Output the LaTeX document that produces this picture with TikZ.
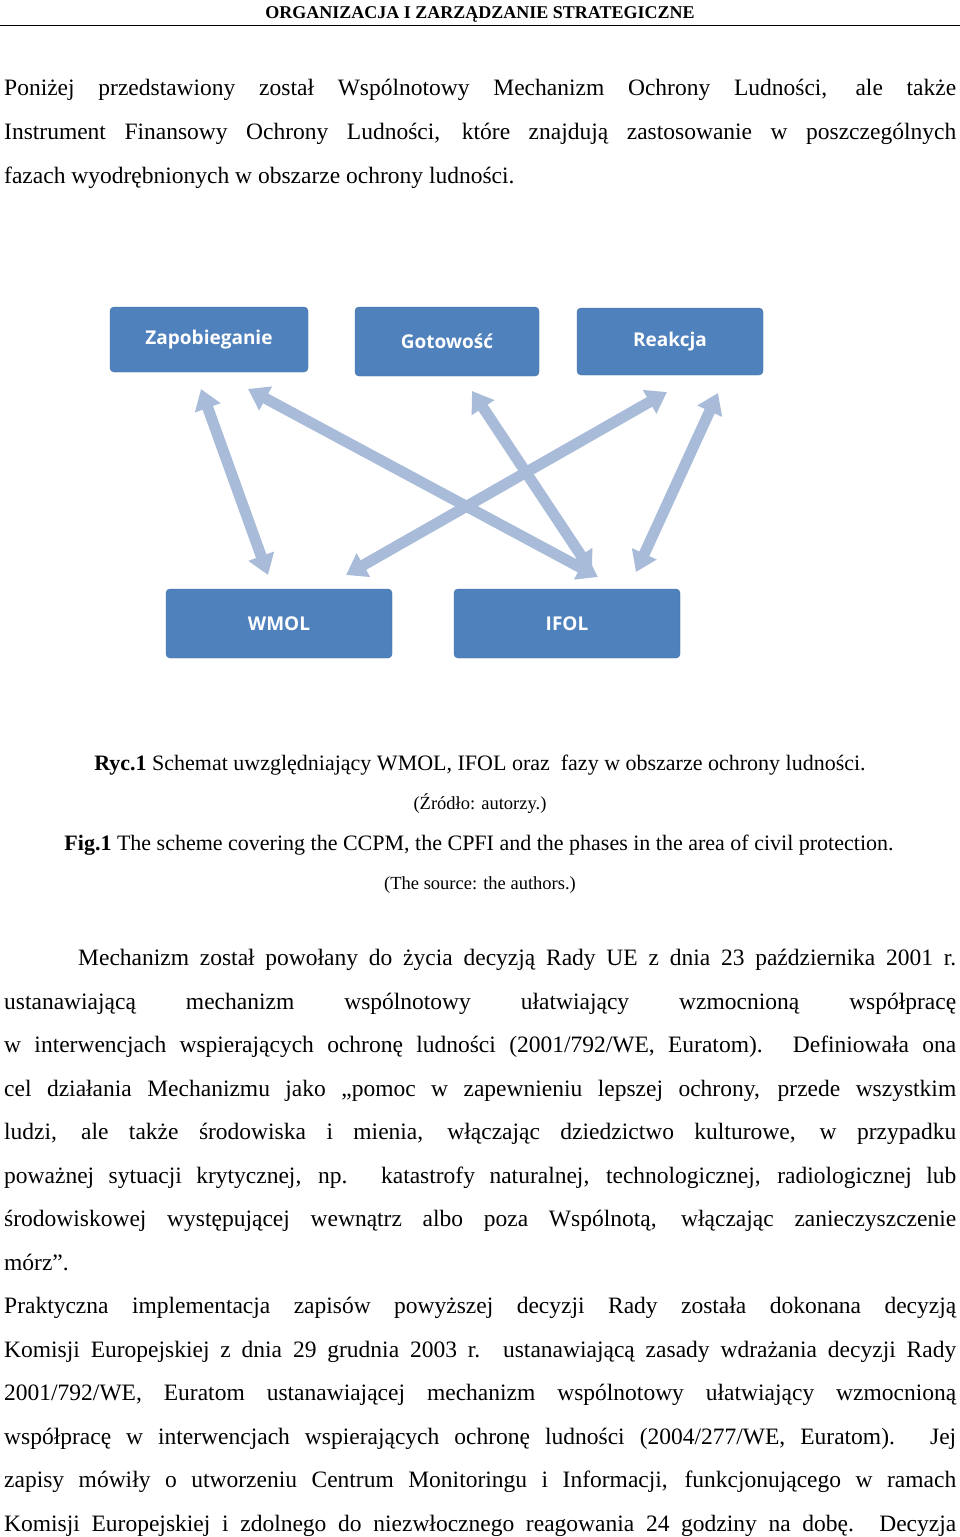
\documentclass[tikz,border=0pt]{standalone}
\usepackage{fontspec}
\setmainfont{Liberation Serif}
\setsansfont{Open Sans}
\usetikzlibrary{arrows.meta}
\definecolor{boxblue}{HTML}{4F81BD}
\definecolor{arrblue}{HTML}{A8BCDA}
\newcommand{\jl}[1]{\makebox[952pt][s]{#1}}
\tikzset{
  phase/.style={draw=boxblue!85!black, fill=boxblue, rounded corners=4pt, text=white, font=\sffamily\bfseries\fontsize{19}{22}\selectfont, inner sep=0pt},
  link/.style={arrblue, line width=11pt, {Triangle[width=26pt,length=20pt]}-{Triangle[width=26pt,length=20pt]}, shorten <=0pt, shorten >=0pt},
  bodyl/.style={anchor=base west, inner sep=0pt, font=\fontsize{23.5}{28}\selectfont},
  capl/.style={anchor=base, inner sep=0pt, font=\fontsize{22}{26}\selectfont},
  srcl/.style={anchor=base, inner sep=0pt, font=\fontsize{18.5}{22}\selectfont}
}
\begin{document}
\begin{tikzpicture}[x=1pt,y=-1pt]
\useasboundingbox (0,0) rectangle (960,1537);
\fill[white] (0,0) rectangle (960,1537);
\node[anchor=base, inner sep=0pt, font=\bfseries\fontsize{18}{20}\selectfont] (hdr) at (480,18) {ORGANIZACJA I ZARZĄDZANIE STRATEGICZNE};
\draw[line width=0.8pt] (0,25) -- (960,25);
\node[bodyl] (p1) at (4,95) {\jl{Poniżej przedstawiony został Wspólnotowy Mechanizm Ochrony Ludności, ale także}};
\node[bodyl] (p2) at (4,139) {\jl{Instrument Finansowy Ochrony Ludności, które znajdują zastosowanie w poszczególnych}};
\node[bodyl] (p3) at (4,183) {fazach wyodrębnionych w obszarze ochrony ludności.};

\node[phase, minimum width=198pt, minimum height=65pt] (zap) at (209,339.5) {Zapobieganie};
\node[phase, minimum width=184pt, minimum height=69pt] (got) at (447,341.5) {Gotowość};
\node[phase, minimum width=186pt, minimum height=67pt] (rea) at (670,341.5) {Reakcja};
\node[phase, minimum width=226pt, minimum height=69pt] (wmol) at (279,623.5) {WMOL};
\node[phase, minimum width=226pt, minimum height=69pt] (ifol) at (567,623.5) {IFOL};

\coordinate (a1s) at (201,389); \coordinate (a1e) at (268,575);
\coordinate (a2s) at (248,389); \coordinate (a2e) at (598,577);
\coordinate (a3s) at (472,391); \coordinate (a3e) at (592,572);
\coordinate (a4s) at (667,392); \coordinate (a4e) at (346,575);
\coordinate (a5s) at (718,393); \coordinate (a5e) at (636,572);
\draw[link] (a1s) -- (a1e);
\draw[link] (a2s) -- (a2e);
\draw[link] (a3s) -- (a3e);
\draw[link] (a4s) -- (a4e);
\draw[link] (a5s) -- (a5e);

\node[capl] (c1) at (480,770) {\textbf{Ryc.1} Schemat uwzględniający WMOL, IFOL oraz\ \ fazy w obszarze ochrony ludności.};
\node[srcl] (c2) at (480,809) {(Źródło: autorzy.)};
\node[capl] (c3) at (479,850) {\textbf{Fig.1} The scheme covering the CCPM, the CPFI and the phases in the area of civil protection.};
\node[srcl] (c4) at (480,889) {(The source: the authors.)};

\node[bodyl] (b1) at (4,965) {\makebox[952pt][s]{\hspace{74pt}Mechanizm został powołany do życia decyzją Rady UE z dnia 23 października 2001 r.}};
\node[bodyl] (b2) at (4,1009) {\jl{ustanawiającą mechanizm wspólnotowy ułatwiający wzmocnioną współpracę}};
\node[bodyl] (b3) at (4,1052) {\jl{w interwencjach wspierających ochronę ludności (2001/792/WE, Euratom). Definiowała ona}};
\node[bodyl] (b4) at (4,1096) {\jl{cel działania Mechanizmu jako „pomoc w zapewnieniu lepszej ochrony, przede wszystkim}};
\node[bodyl] (b5) at (4,1139) {\jl{ludzi, ale także środowiska i mienia, włączając dziedzictwo kulturowe, w przypadku}};
\node[bodyl] (b6) at (4,1183) {\jl{poważnej sytuacji krytycznej, np. katastrofy naturalnej, technologicznej, radiologicznej lub}};
\node[bodyl] (b7) at (4,1226) {\jl{środowiskowej występującej wewnątrz albo poza Wspólnotą, włączając zanieczyszczenie}};
\node[bodyl] (b8) at (4,1270) {mórz”.};
\node[bodyl] (b9) at (4,1313) {\jl{Praktyczna implementacja zapisów powyższej decyzji Rady została dokonana decyzją}};
\node[bodyl] (b10) at (4,1357) {\jl{Komisji Europejskiej z dnia 29 grudnia 2003 r. ustanawiającą zasady wdrażania decyzji Rady}};
\node[bodyl] (b11) at (4,1400) {\jl{2001/792/WE, Euratom ustanawiającej mechanizm wspólnotowy ułatwiający wzmocnioną}};
\node[bodyl] (b12) at (4,1444) {\jl{współpracę w interwencjach wspierających ochronę ludności (2004/277/WE, Euratom). Jej}};
\node[bodyl] (b13) at (4,1487) {\jl{zapisy mówiły o utworzeniu Centrum Monitoringu i Informacji, funkcjonującego w ramach}};
\node[bodyl] (b14) at (4,1531) {\jl{Komisji Europejskiej i zdolnego do niezwłocznego reagowania 24 godziny na dobę. Decyzja}};
\end{tikzpicture}
\end{document}
